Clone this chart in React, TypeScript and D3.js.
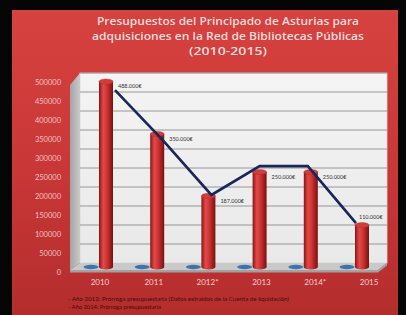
// Presupuestos Red de Bibliotecas - 3D-style cylinder bar chart with hand-drawn trend line

import * as d3 from "d3";

const years = ["2010", "2011", "2012*", "2013", "2014*", "2015"];
const budget = [488000, 350000, 187000, 250000, 250000, 110000];
const budgetLabels = ["488.000€", "350.000€", "187.000€", "250.000€", "250.000€", "110.000€"];
// second (empty) series, only its base disc is visible
const series = ["base", "budget"];
const trend = [455000, 322000, 179000, 255000, 255000, 105000];
const yTicks = [0, 50000, 100000, 150000, 200000, 250000, 300000, 350000, 400000, 450000, 500000];
const titleLines = [
  "Presupuestos del Principado de Asturias para",
  "adquisiciones en la Red de Bibliotecas Públicas",
  "(2010-2015)",
];
const notes = [
  "- Año 2012: Prórroga presupuestaria (Datos extraídos de la  Cuenta de liquidación)",
  "- Año 2014: Prórroga presupuestaria",
];

const W = 406;
const H = 315;

export default function App() {
  // three depth planes of the fake 3D box
  const yFront = d3.scaleLinear().domain([0, 500000]).range([272, 82]);
  const yMid = d3.scaleLinear().domain([0, 500000]).range([267, 77]);
  const yBack = d3.scaleLinear().domain([0, 500000]).range([263, 73]);

  const xMid = d3.scaleBand().domain(years).range([72.9, 380.1]);
  const xSeries = d3.scaleBand().domain(series).range([0, xMid.bandwidth()]).paddingOuter(0.707);
  const xFront = d3.scaleBand().domain(years).range([73, 396]);
  const xTrend = d3.scalePoint().domain(years).range([115, 356]);

  const wallL = 80, wallR = 387, sideL = 70, floorR = 378;
  const floorBack = yBack(0), floorFront = 270;

  const trendLine = d3
    .line<number>()
    .x((_, i) => xTrend(years[i]) as number)
    .y((d) => yBack(d));

  const barW = 14;
  const rx = barW / 2;
  const ry = 2.6;

  return (
    <svg width={W} height={H} style={{ position: "absolute", left: 0, top: 0, display: "block" }}>
      <defs>
        <linearGradient id="slide" x1="0" y1="0" x2="0" y2="1">
          <stop offset="0%" stopColor="#d6423f" />
          <stop offset="55%" stopColor="#c83636" />
          <stop offset="100%" stopColor="#b42d2d" />
        </linearGradient>
        <linearGradient id="cyl" x1="0" y1="0" x2="1" y2="0">
          <stop offset="0%" stopColor="#8a1414" />
          <stop offset="30%" stopColor="#e24a48" />
          <stop offset="55%" stopColor="#cf3535" />
          <stop offset="100%" stopColor="#7a1010" />
        </linearGradient>
        <linearGradient id="side" x1="0" y1="0" x2="1" y2="0">
          <stop offset="0%" stopColor="#a4a4a4" />
          <stop offset="100%" stopColor="#cacaca" />
        </linearGradient>
        <linearGradient id="wall" x1="0" y1="0" x2="0" y2="1">
          <stop offset="0%" stopColor="#f4f4f4" />
          <stop offset="100%" stopColor="#e9e9e9" />
        </linearGradient>
      </defs>

      <rect x={0} y={0} width={W} height={H} fill="#050505" />
      <rect x={12} y={10} width={386} height={H - 10} fill="url(#slide)" />

      {/* title */}
      {titleLines.map((t, i) => (
        <text
          key={t}
          x={228}
          y={25 + i * 15}
          textAnchor="middle"
          fill="#f1dcdc"
          fontFamily="'Open Sans', Lato, sans-serif"
          fontWeight={600}
          fontSize={11}
          textLength={[262, 272, 78][i]}
          lengthAdjust="spacingAndGlyphs"
        >
          {t}
        </text>
      ))}

      {/* back wall + gridlines */}
      <rect x={wallL} y={yBack(500000)} width={wallR - wallL} height={floorBack - yBack(500000)} fill="url(#wall)" stroke="#d8d8d8" strokeWidth={0.8} />
      {yTicks.slice(1).map((v) => (
        <line key={v} x1={wallL} x2={wallR} y1={yBack(v)} y2={yBack(v)} stroke="#8c8c8c" strokeWidth={0.9} />
      ))}

      {/* left side wall */}
      <polygon
        points={`${sideL},${yFront(500000) + 3} ${wallL},${yBack(500000)} ${wallL},${floorBack} ${sideL},${floorFront}`}
        fill="url(#side)"
      />

      {/* floor */}
      <polygon
        points={`${sideL},${floorFront} ${wallL},${floorBack} ${wallR},${floorBack} ${floorR},${floorFront}`}
        fill="#c9c9c9"
      />
      <polygon
        points={`${sideL},${floorFront} ${floorR},${floorFront} ${wallR},${floorBack} ${wallR},${floorBack + 2.5} ${floorR},${floorFront + 2.5} ${sideL},${floorFront + 2.5}`}
        fill="#a2a2a2"
      />

      {/* y tick labels */}
      {yTicks.map((v) => (
        <text
          key={v}
          x={61}
          y={yFront(v)}
          dy="0.35em"
          textAnchor="end"
          fill="#efc3c3"
          fontFamily="Lato, sans-serif"
          fontSize={7.5}
        >
          {v}
        </text>
      ))}

      {/* bars */}
      {years.map((yr, i) => {
        const x0 = xMid(yr) as number;
        const cb = x0 + (xSeries("base") as number) + xSeries.bandwidth() / 2;
        const cx = x0 + (xSeries("budget") as number) + xSeries.bandwidth() / 2;
        const yt = yMid(budget[i]);
        const yb = yMid(0);
        const body = `M${cx - rx},${yt} L${cx - rx},${yb} A${rx},${ry} 0 0 0 ${cx + rx},${yb} L${cx + rx},${yt} Z`;
        return (
          <g key={yr}>
            <ellipse cx={cb} cy={yb} rx={rx + 0.5} ry={ry - 0.4} fill="#3f73ad" />
            <path d={body} fill="url(#cyl)" />
            <ellipse cx={cx} cy={yt} rx={rx} ry={ry} fill="#d23c3a" stroke="#b32424" strokeWidth={0.4} />
          </g>
        );
      })}

      {/* trend line */}
      <path d={trendLine(trend) || ""} fill="none" stroke="#17275a" strokeWidth={2.6} strokeLinejoin="miter" />

      {/* data labels */}
      {years.map((yr, i) => {
        const x0 = xMid(yr) as number;
        const cx = x0 + (xSeries("budget") as number) + xSeries.bandwidth() / 2;
        const last = i === years.length - 1;
        return (
          <text
            key={yr}
            x={last ? cx - 3 : cx + rx + 5}
            y={last ? yMid(budget[i]) - 8 : yMid(budget[i]) + 5}
            dy="0.35em"
            fill="#333333"
            fontFamily="Lato, sans-serif"
            fontSize={5.5}
          >
            {budgetLabels[i]}
          </text>
        );
      })}

      {/* x labels */}
      {years.map((yr) => (
        <text
          key={yr}
          x={(xFront(yr) as number) + xFront.bandwidth() / 2}
          y={282}
          dy="0.35em"
          textAnchor="middle"
          fill="#f3cfcf"
          fontFamily="Lato, sans-serif"
          fontSize={8}
        >
          {yr}
        </text>
      ))}

      {/* footnotes */}
      {notes.map((n, i) => (
        <text
          key={n}
          x={68}
          y={299 + i * 8}
          dy="0.35em"
          fill="#3e0e0e"
          fontFamily="Lato, sans-serif"
          fontSize={6}
          textLength={[221, 93][i]}
          lengthAdjust="spacingAndGlyphs"
        >
          {n}
        </text>
      ))}
    </svg>
  );
}
